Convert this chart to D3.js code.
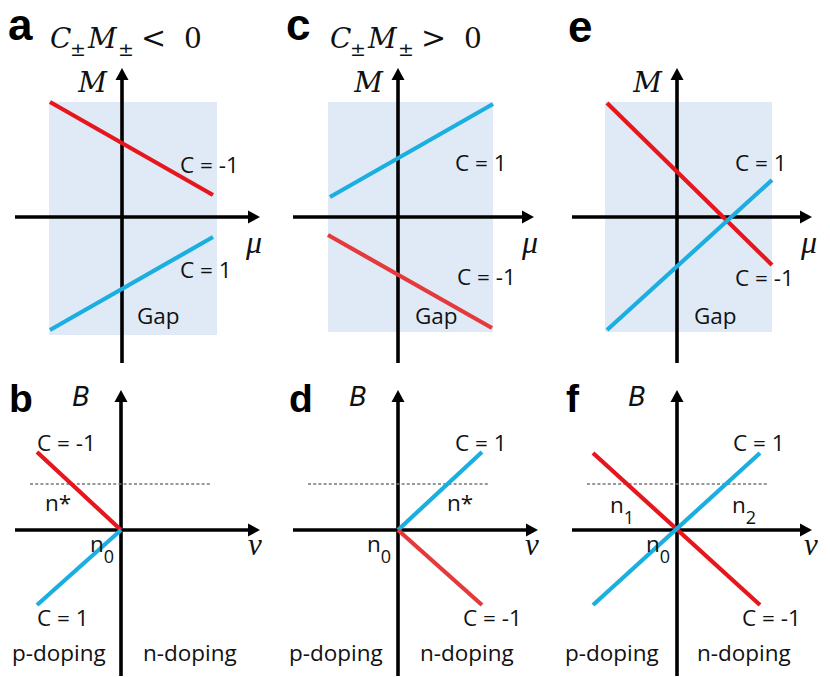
<!DOCTYPE html>
<html>
<head>
<meta charset="utf-8">
<script src="https://cdn.jsdelivr.net/npm/d3@7"></script>
<style>
  html, body { margin: 0; padding: 0; background: #fff; }
  svg { display: block; }
</style>
</head>
<body>
<div id="chart"></div>
<script>
// ---------------- DATA (diagram units; origin = axis crossing) ----------------
// top row: M vs mu ; gap rectangle [[x0,x1],[y0,y1]]
const aGap  = [[-7.3, 9.5], [-11.8, 11.5]];
const aRed  = [[-7.2, 11.5], [9.1, 2.2]];
const aBlue = [[-7.2, -11.3], [9.1, -2.0]];

const cGap  = [[-7.0, 9.5], [-11.5, 11.5]];
const cBlue = [[-6.8, 2.0], [9.5, 11.3]];
const cRed  = [[-7.0, -1.8], [9.4, -11.1]];

const eGap  = [[-7.2, 9.5], [-11.5, 11.5]];
const eRed  = [[-7.0, 11.4], [9.5, -4.8]];
const eBlue = [[-7.0, -11.3], [9.5, 3.7]];

// bottom row: B vs v
const bRed  = [[-8.4, 7.8], [0, 0]];
const bBlue = [[-8.4, -7.5], [0, 0]];
const dBlue = [[0, 0], [8.4, 7.8]];
const dRed  = [[0, 0], [8.4, -7.5]];
const fRed  = [[-8.4, 7.7], [8.3, -7.5]];
const fBlue = [[-8.4, -7.5], [8.3, 7.7]];
const dashedLevel = [4.6, 4.6, 4.6];
const dashedSpan  = [[-9.1, 8.9], [-9.0, 9.0], [-9.0, 9.0]];

const panelLetters = ["a", "c", "e", "b", "d", "f"];
const topTitles = ["<", ">", null];
const topChern = [["C = -1", "C = 1"], ["C = 1", "C = -1"], ["C = 1", "C = -1"]];
const botChern = [["C = -1", "C = 1"], ["C = 1", "C = -1"], ["C = 1", "C = -1"]];

// ---------------- LAYOUT ----------------
const W = 830, H = 677;
const svg = d3.select("#chart").append("svg").attr("width", W).attr("height", H);
const RED = "#e6161c", RED2 = "#e53a3c", BLUE = "#1baee0";
const GAPC = "#dfeaf6";
const sans = "'Open Sans', 'Noto Sans', sans-serif";
const serif = "'DejaVu Serif', 'Liberation Serif', serif";
const serif2 = "'Liberation Serif', 'DejaVu Serif', serif";

function makeScales(ox, oy) {
  return {
    x: d3.scaleLinear().domain([-10, 10]).range([ox - 100, ox + 100]),
    y: d3.scaleLinear().domain([-10, 10]).range([oy + 100, oy - 100])
  };
}
const line = (s) => d3.line().x(d => s.x(d[0])).y(d => s.y(d[1]));

function axes(g, s, xr, yr) {
  const col = "#000", sw = 3.6, ah = 12, aw = 6.5;
  g.append("line").attr("x1", s.x(xr[0])).attr("x2", s.x(xr[1]) - ah + 2)
    .attr("y1", s.y(0)).attr("y2", s.y(0)).attr("stroke", col).attr("stroke-width", sw);
  g.append("line").attr("x1", s.x(0)).attr("x2", s.x(0))
    .attr("y1", s.y(yr[0])).attr("y2", s.y(yr[1]) + ah - 2).attr("stroke", col).attr("stroke-width", sw);
  const tx = s.x(xr[1]), ty = s.y(0);
  g.append("path").attr("d", `M${tx},${ty} L${tx - ah},${ty - aw} L${tx - ah},${ty + aw} Z`).attr("fill", col);
  const ux = s.x(0), uy = s.y(yr[1]);
  g.append("path").attr("d", `M${ux},${uy} L${ux - aw},${uy + ah} L${ux + aw},${uy + ah} Z`).attr("fill", col);
}

function txt(g, s, p, str, opts = {}) {
  return g.append("text").attr("x", s.x(p[0])).attr("y", s.y(p[1])).attr("dy", "0.36em")
    .attr("font-family", opts.family || sans).attr("font-size", opts.size || 22.5)
    .attr("font-style", opts.italic ? "italic" : "normal")
    .attr("text-anchor", opts.anchor || "start").attr("fill", "#111").text(str);
}

function subText(g, s, p, base, sub) {
  const t = g.append("text").attr("x", s.x(p[0])).attr("y", s.y(p[1])).attr("dy", "0.36em")
    .attr("font-family", sans).attr("font-size", 22.5).attr("fill", "#111");
  t.append("tspan").text(base);
  t.append("tspan").attr("font-size", 18).attr("dy", "0.6em").text(sub);
}

function colored(g, s, pts, color) {
  g.append("path").datum(pts).attr("d", line(s)).attr("stroke", color)
    .attr("stroke-width", 4.2).attr("fill", "none");
}

// ---------------- TOP ROW ----------------
const topOrigins = [[122, 217], [398, 217], [677, 217]];
const topGaps = [aGap, cGap, eGap];
const topLines = [[aRed, RED, aBlue, BLUE], [cBlue, BLUE, cRed, RED2], [eRed, RED, eBlue, BLUE]];
const topXr = [[-10.7, 13.8], [-10.5, 13.6], [-10.5, 13.5]];
const topLab = [[[5.8, 5.2], [5.8, -5.3]], [[5.7, 5.4], [5.9, -6.0]], [[5.8, 5.4], [5.8, -6.1]]];
const titleX = [50, 330];

topOrigins.forEach((o, i) => {
  const s = makeScales(o[0], o[1]);
  const g = svg.append("g");
  const gp = topGaps[i];
  g.append("rect").attr("x", s.x(gp[0][0])).attr("y", s.y(gp[1][1]))
    .attr("width", s.x(gp[0][1]) - s.x(gp[0][0])).attr("height", s.y(gp[1][0]) - s.y(gp[1][1]))
    .attr("fill", GAPC);
  axes(g, s, topXr[i], [-14.6, 14.9]);
  const L = topLines[i];
  colored(g, s, L[0], L[1]);
  colored(g, s, L[2], L[3]);
  txt(g, s, topLab[i][0], topChern[i][0]);
  txt(g, s, topLab[i][1], topChern[i][1]);
  txt(g, s, [i === 0 ? 1.5 : 1.7, -9.9], "Gap");
  txt(g, s, [12.4, -2.4], "\u03bc", { family: serif2, italic: true, size: 32 });
  txt(g, s, [-1.5, 13.5], "M", { family: serif, italic: true, size: 28, anchor: "end" });
  if (topTitles[i]) {
    const x0 = titleX[i];
    const t = svg.append("text").attr("y", 48)
      .attr("font-family", serif).attr("font-size", 28).attr("fill", "#111");
    t.append("tspan").attr("x", x0).attr("font-style", "italic").text("C");
    t.append("tspan").attr("x", x0 + 20).attr("font-size", 19).attr("dy", 8).text("\u00b1");
    t.append("tspan").attr("x", x0 + 38).attr("font-style", "italic").attr("dy", -8).text("M");
    t.append("tspan").attr("x", x0 + 68).attr("font-size", 19).attr("dy", 8).text("\u00b1");
    t.append("tspan").attr("x", x0 + 91).attr("font-size", 30).attr("dy", -8).text(topTitles[i]);
    t.append("tspan").attr("x", x0 + 134).text("0");
  }
});

// ---------------- BOTTOM ROW ----------------
const botOrigins = [[121, 530], [398, 530], [677, 530]];
const botLines = [[bRed, RED, bBlue, BLUE], [dBlue, BLUE, dRed, RED2], [fRed, RED, fBlue, BLUE]];
const botLab = [[[-8.4, 8.7], [-8.4, -8.8]], [[5.7, 8.7], [6.5, -8.8]], [[5.6, 8.7], [6.5, -8.8]]];
const botXr = [[-10.6, 13.9], [-10.5, 14.0], [-10.5, 13.5]];

botOrigins.forEach((o, i) => {
  const s = makeScales(o[0], o[1]);
  const g = svg.append("g");
  axes(g, s, botXr[i], [-14.6, 14.0]);
  g.append("line").attr("x1", s.x(dashedSpan[i][0])).attr("x2", s.x(dashedSpan[i][1]))
    .attr("y1", s.y(dashedLevel[i])).attr("y2", s.y(dashedLevel[i]))
    .attr("stroke", "#777").attr("stroke-width", 1.3).attr("stroke-dasharray", "3,2.2");
  const L = botLines[i];
  colored(g, s, L[0], L[1]);
  colored(g, s, L[2], L[3]);
  txt(g, s, botLab[i][0], botChern[i][0]);
  txt(g, s, botLab[i][1], botChern[i][1]);
  if (i === 0) txt(g, s, [-7.6, 2.7], "n*");
  if (i === 1) txt(g, s, [4.9, 2.7], "n*");
  if (i === 2) { subText(g, s, [-6.7, 2.5], "n", "1"); subText(g, s, [5.5, 2.5], "n", "2"); }
  subText(g, s, [-3.1, -1.4], "n", "0");
  txt(g, s, [i === 2 ? -11.2 : -10.9, -12.3], "p-doping");
  txt(g, s, [i === 2 ? 2.0 : 2.2, -12.3], "n-doping");
  txt(g, s, [12.7, -1.4], "v", { family: serif2, italic: true, size: 31 });
  txt(g, s, [-3.1, 13.3], "B", { family: "'DejaVu Sans', sans-serif", italic: true, size: 26, anchor: "end" });
});

// ---------------- PANEL LETTERS ----------------
const letterPos = [[8, 40, 44], [286, 40, 44], [568, 42, 44], [9, 412, 39], [289, 412, 39], [566, 412, 39]];
panelLetters.forEach((l, i) => {
  svg.append("text").attr("x", letterPos[i][0]).attr("y", letterPos[i][1])
    .attr("font-family", "'Liberation Sans', Arial, sans-serif").attr("font-weight", "bold")
    .attr("font-size", letterPos[i][2]).attr("fill", "#000").text(l);
});
</script>
</body>
</html>
